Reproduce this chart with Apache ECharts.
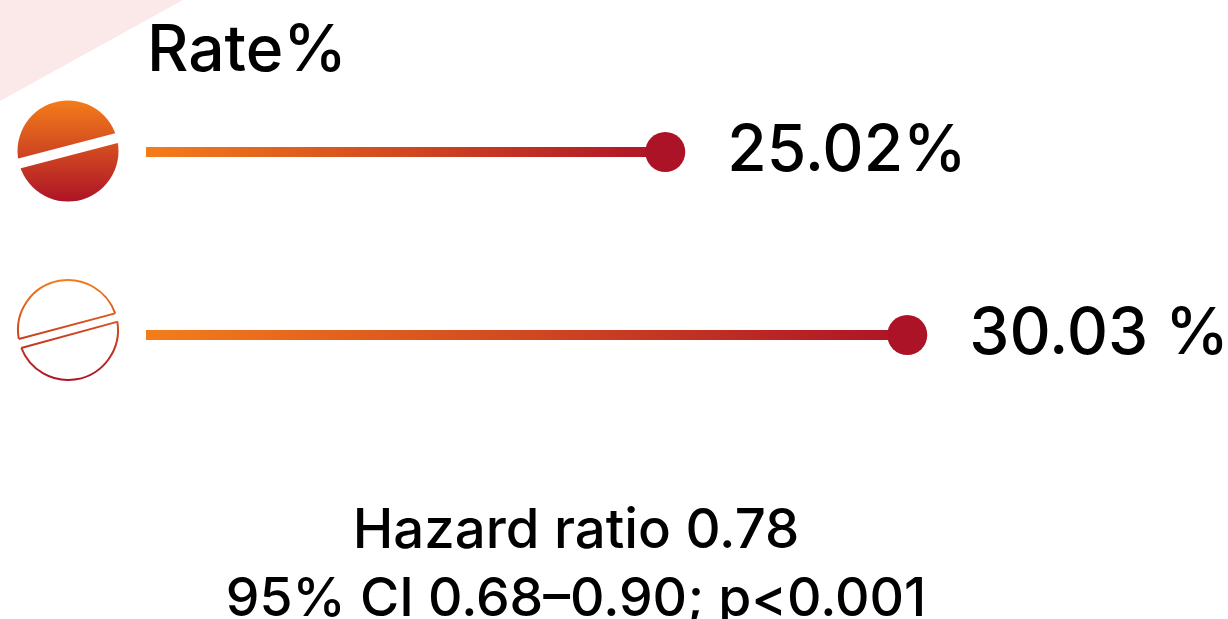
<!DOCTYPE html>
<html>
<head>
<meta charset="utf-8">
<style>
  html, body { margin: 0; padding: 0; background: #fff; overflow: hidden; }
  #chart { width: 1228px; height: 619px; }
</style>
<script src="https://cdn.jsdelivr.net/npm/echarts@6/dist/echarts.min.js"></script>
</head>
<body>
<div id="chart"></div>
<script>
var arms = ['Treatment', 'Control'];
var rates = [25.02, 30.03];
var rateLabels = ['25.02%', '30.03 %'];
var columnTitle = 'Rate%';
var hazardLines = ['Hazard ratio 0.78', '95% CI 0.68\u20130.90; p<0.001'];

var chart = echarts.init(document.getElementById('chart'));
var fontName = 'Inter';
var orange = '#f47d1a', red = '#ad1327';

function barGradient() {
  return new echarts.graphic.LinearGradient(0, 0, 1, 0, [
    { offset: 0, color: orange },
    { offset: 1, color: red }
  ]);
}
function iconGradient(y1, y2) {
  return new echarts.graphic.LinearGradient(0, y1, 0, y2, [
    { offset: 0, color: orange },
    { offset: 1, color: red }
  ], true);
}
function rad(d) { return d * Math.PI / 180; }

// outline icon pieces share one gradient across the whole circle
var outlineStyle = { fill: 'none', stroke: iconGradient(279, 381), lineWidth: 2 };

chart.setOption({
  animation: false,
  grid: { left: 146, top: 60.5, width: 1082, height: 366 },
  xAxis: { type: 'value', min: 14.27, max: 36.67, show: false },
  yAxis: { type: 'category', data: arms, inverse: true, show: false },
  series: [{
    type: 'bar',
    barWidth: 10,
    data: rates,
    itemStyle: { color: barGradient() },
    z: 2
  }, {
    type: 'scatter',
    symbolSize: 40,
    itemStyle: { color: red, opacity: 1 },
    data: rates.map(function(v, i) { return [v, i]; }),
    label: {
      show: true,
      position: 'right',
      distance: 42,
      color: '#000',
      fontFamily: fontName,
      fontWeight: 500,
      fontSize: 64,
      formatter: function(p) { return rateLabels[p.dataIndex]; }
    },
    z: 3
  }],
  graphic: [{
    type: 'polygon',
    shape: { points: [[0, 0], [183, 0], [0, 101]] },
    style: { fill: '#fbe9ea' },
    z: 0
  }, {
    type: 'circle',
    shape: { cx: 68, cy: 151, r: 50.5 },
    style: { fill: iconGradient(100, 202) },
    z: 1
  }, {
    type: 'line',
    shape: { x1: 10, y1: 165.85, x2: 126, y2: 135.65 },
    style: { stroke: '#fff', lineWidth: 10 },
    z: 2
  }, {
    type: 'arc',
    shape: { cx: 68, cy: 330, r: 50, startAngle: rad(169.7), endAngle: rad(340.5), clockwise: true },
    style: outlineStyle
  }, {
    type: 'arc',
    shape: { cx: 68, cy: 330, r: 50, startAngle: rad(-9.6), endAngle: rad(159), clockwise: true },
    style: outlineStyle
  }, {
    type: 'line',
    shape: { x1: 18.8, y1: 339, x2: 115.2, y2: 313.4 },
    style: outlineStyle
  }, {
    type: 'line',
    shape: { x1: 21.2, y1: 348, x2: 117.8, y2: 321.6 },
    style: outlineStyle
  }, {
    type: 'text',
    x: 147, y: 52,
    style: { text: columnTitle, fontFamily: fontName, fontWeight: 500, fontSize: 64, fill: '#000', textVerticalAlign: 'middle' }
  }, {
    type: 'text',
    x: 576, y: 532,
    style: { text: hazardLines[0], fontFamily: fontName, fontWeight: 500, fontSize: 54.5, fill: '#000', textAlign: 'center', textVerticalAlign: 'middle' }
  }, {
    type: 'text',
    x: 576, y: 600,
    style: { text: hazardLines[1], fontFamily: fontName, fontWeight: 500, fontSize: 53.5, fill: '#000', textAlign: 'center', textVerticalAlign: 'middle' }
  }]
});
</script>
</body>
</html>
